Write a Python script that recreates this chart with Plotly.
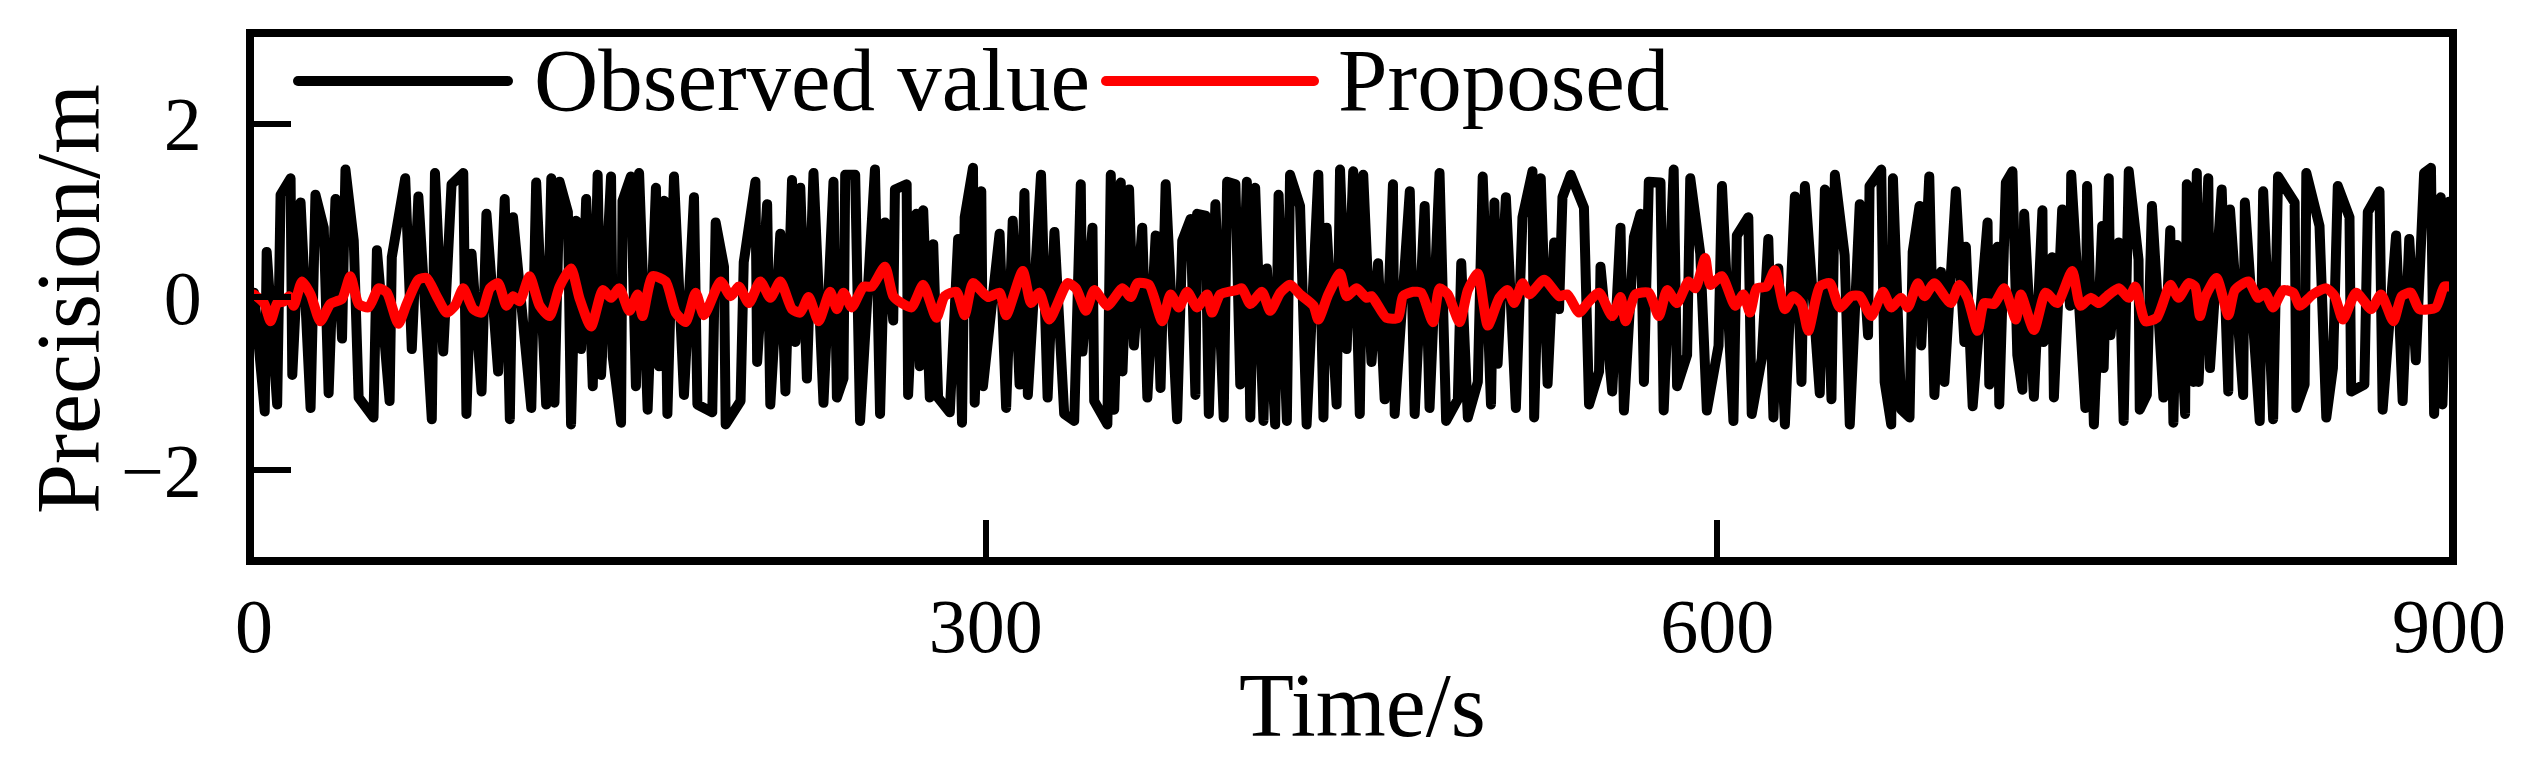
import plotly.graph_objects as go

obs_time = [
    0, 4.4, 5.2, 9.5, 10.9, 15.0, 15.7, 19.1, 23.2, 25.2, 28.6, 30.6, 33.4, 36.1, 37.5, 40.9,
    42.9, 49.0, 50.4, 55.6, 56.5, 62.0, 64.7, 67.4, 72.9, 74.2, 77.6, 81.0, 85.8, 87.1, 89.2,
    93.3, 95.3, 100.1, 102.8, 104.9, 106.2,
    111.0, 113.7, 115.7, 119.8, 121.9, 123.2, 125.3, 128.7, 130.0, 132.1, 134.1, 136.2, 138.9,
    140.9, 142.3, 146.4, 147.1, 150.5, 151.1, 154.5, 156.6, 157.9, 161.4, 164.8, 166.1, 168.2,
    169.5, 172.2, 176.3, 180.4, 181.8, 187.9, 189.3, 192.7, 193.4, 199.5, 200.8, 205.6, 206.3,
    210.4, 211.7, 215.8, 217.9, 220.6, 222.0, 224.0,
    226.7, 229.4, 233.5, 237.6, 239.0, 241.7, 242.4, 246.5, 248.5, 254.6, 256.7, 258.7, 262.1,
    262.8, 267.6, 268.2, 271.6, 273.0, 274.4, 277.1, 278.5, 280.5, 285.3, 288.7, 290.3, 291.4,
    294.8, 295.5, 298.2, 298.9, 305.7, 308.4, 311.1, 313.9, 315.9, 317.3, 322.7, 325.4, 328.2,
    332.2, 336.3, 339.0,
    339.7, 343.8, 344.5, 349.9, 351.3, 352.7, 355.4, 356.1, 358.8, 360.8, 364.2, 366.3, 369.7,
    371.7, 373.8, 378.5, 380.6, 384.0, 386.0, 386.7, 390.1, 391.5, 394.2, 397.6, 399.0, 402.4,
    404.4, 407.1, 408.5, 410.5, 413.9, 415.3, 418.7, 420.1, 423.5, 424.8, 428.9, 431.6, 436.4,
    438.5, 439.8, 443.9, 445.3, 448.0, 450.7, 453.4,
    454.8, 458.2, 460.9, 463.6, 467.0, 467.7, 473.9, 475.9, 480.0, 482.0, 486.1, 488.8, 493.6,
    495.0, 497.7, 501.8, 503.8, 507.2, 508.6, 509.9, 513.3, 517.4, 520.1, 524.2, 524.9, 527.6,
    530.4, 533.1, 535.1, 536.5, 539.9, 545.3, 547.4, 551.5, 552.1, 556.9, 560.3, 561.7, 565.8,
    568.5, 569.9, 571.9, 576.7, 578.0, 582.1, 583.5, 587.6, 588.9, 593.0, 595.7, 600.5, 601.9,
    606.6, 608.0, 612.7, 614.1, 618.2, 620.9, 623.0, 625.0, 627.7, 631.8, 634.5, 635.9, 642.0,
    644.1, 646.8, 648.2, 652.2, 654.3, 658.4, 661.8, 662.4, 667.2, 668.6, 671.3, 672.0, 675.4,
    678.8, 680.1,
    682.9, 683.6, 686.9, 689.0, 691.7, 693.1, 697.8, 701.3, 701.9, 704.7, 710.8, 711.5, 714.9,
    715.6, 718.3, 721.0, 723.0, 725.1, 725.8, 729.8, 733.3, 733.7, 737.3, 738.0, 741.4, 744.6,
    745.1, 750.9, 751.6, 754.4, 757.8, 758.4, 760.5, 761.2, 764.6, 766.6, 768.7, 772.7, 773.2,
    776.1, 778.2, 782.9, 785.7, 787.0, 788.4, 791.8, 792.5, 795.2, 796.6,
    797.3, 801.3, 802.0, 806.8, 809.5, 810.2, 815.6, 816.3, 822.4, 823.8, 827.9, 829.9, 836.7,
    837.4, 840.8, 841.5, 846.9, 849.7, 852.4, 854.4, 859.2, 859.9, 865.3, 866.7, 871.5, 872.8,
    878.3, 881.0, 883.7, 886.4, 889.8, 892.6, 893.9, 896.6, 897.3, 900.0,
]
obs_value = [
    0.05, -1.32, 0.52, -1.24, 1.18, 1.37, -0.90, 1.09, -1.28, 1.18, 0.80, -1.11, 1.13, -0.48, 1.47, 0.65,
    -1.16, -1.39, 0.54, -1.20, 0.46, 1.37, -0.60, 1.16, -1.41, 1.43, -0.63, 1.30, 1.43, -1.35, 0.50,
    -1.09, 0.96, -0.86, 1.13, -1.41, 0.92,
    -0.52, -1.28, 1.32, -1.24, 1.37, -1.22, 1.33, 0.98, -1.47, 0.88, -0.60, 1.13, -1.03,
    1.41, -0.90, 1.39, -0.69, -1.45, 1.11, 1.39, -1.03, 1.43, -1.30, 1.26, -0.80, 1.11,
    -1.35, 1.39, -1.13, 1.15, -1.24, -1.33, 0.86, 0.35, -1.47, -1.20, 0.40, 1.33, -0.75,
    1.07, -1.24, 0.73, -1.09, 1.35, -0.52, 1.26,
    -0.94, 1.43, -1.22, 1.33, -1.16, -0.94, 1.41, 1.41, -1.43, 1.47, -1.35, 0.86, -0.27,
    1.24, 1.30, -1.13, 0.96, -0.80, 1.00, -1.16, 0.61, -1.16, -1.33, 0.67, -1.45, 0.92,
    1.49, -1.22, 1.22, -1.03, 0.73, -1.28, 0.88, -1.01, 1.20, -1.13, 1.41, -1.16, 0.75,
    -1.35, -1.43, 1.30,
    -0.63, 0.80, -1.20, -1.47, 1.41, -1.30, 1.32, -0.86, 1.24, -0.56, 0.80, -1.16, 0.71,
    -1.05, 1.30, -1.41, 0.65, 0.90, -1.13, 0.96, 0.94, -1.35, 1.07, -1.39, 1.33, 1.30,
    -1.01, 1.33, -1.39, 1.26, -1.43, 0.33, -1.47, 1.18, -1.43, 1.41, 1.05, -1.47, 1.41,
    -1.39, 0.80, -1.24, 1.47, -0.60, 1.45, -1.35,
    1.41, -0.75, 0.39, -1.18, 1.30, -1.35, 1.22, -1.35, 1.05, -1.28, 1.43, -1.43, -1.18,
    0.39, -1.39, -0.98, 1.39, -1.24, 1.09, -0.77, 1.15, -1.28, 0.92, 1.45, -1.39, 1.37,
    -1.00, 0.63, -0.14, 1.15, 1.41, 1.03, -1.24, -0.86, 0.35, -1.09, 0.80, -1.31, 0.69,
    0.96, -0.98, 1.33, 1.32, -1.31, 1.47, -1.03, -0.67, 1.37, 0.50, -1.31, -0.56, 1.28,
    -1.43, 0.71, 0.92, -1.35, -0.71, 0.67, -1.39, 0.33, -1.47, 1.16, -0.98, 1.28, -1.11,
    1.24, -1.18, 1.41, 0.48, -1.47, 1.07, -0.44, 1.28, 1.47, -0.98, -1.47, 1.37, -1.30,
    -1.39, 0.52,
    1.05, -0.56, 1.39, -1.13, 0.29, -0.98, 1.22, -0.52, 0.58, -1.26, 0.86, -1.01, 0.58,
    -1.24, 1.32, 1.45, -0.67, -1.07, 0.96, -1.15, 1.00, -0.52, 0.46, -1.16, 1.01, -0.10,
    1.41, -1.28, 1.28, -1.47, 0.82, -0.82, 1.37, -0.44, 0.63, -1.43, 1.45, 0.43, -1.30,
    -1.13, 1.05, -1.16, 0.77, -1.45, 0.60, -1.35, 1.30, -0.98, 1.43,
    -0.98, 1.37, -0.82, 1.24, -1.09, 1.01, -1.13, 1.09, -1.43, 1.22, -1.41, 1.39, 1.09,
    -1.28, -1.01, 1.43, 0.82, -1.39, -0.82, 1.28, 0.92, -1.09, -1.01, 0.98, 1.22, -1.30,
    0.71, -1.20, 0.67, -0.73, 1.43, 1.49, -1.35, 1.15, -1.24, 1.10,
]

# Proposed (red)
prop_time = [
    0, 4.1, 6.8, 9.5, 12.3, 14.3, 16.3, 19.7, 23.2, 27.2, 31.3, 36.1, 39.5, 42.9, 47.0, 51.1,
    54.5, 59.2, 62.6, 67.4, 70.8, 74.9, 79.0, 82.4, 85.8, 89.9, 93.3, 96.7, 100.1, 103.5, 106.2, 108.9,
    113.0, 117.1, 121.2, 125.3, 130.0, 133.4, 138.2, 143.0, 146.4, 149.8, 153.9, 157.3, 159.3,
    163.4, 168.8, 172.9, 177.0, 181.1, 184.5, 191.3, 195.4, 198.8, 202.9, 207.6, 211.7, 215.8,
    220.6, 224.0, 227.4,
    231.5, 236.2, 239.0, 241.7, 245.1, 249.9, 253.3, 258.7, 262.1, 265.5, 269.6, 274.4, 279.8,
    283.2, 288.0, 291.4, 294.8, 300.9, 305.7, 308.4, 315.2, 318.6, 322.0, 326.1, 333.6, 337.0, 341.1,
    344.5, 349.9, 356.1, 359.5, 362.2, 367.0, 372.4, 375.8, 379.2, 382.6, 386.7, 390.8, 392.8,
    396.2, 403.0, 405.1, 408.5, 413.3, 416.7, 420.8, 424.8, 428.9, 434.4, 436.4, 440.5, 445.3,
    448.0, 452.1, 456.2,
    458.2, 464.3, 469.1, 471.1, 475.2, 478.6, 483.4, 486.1, 489.5, 494.3, 497.7, 501.8, 505.9,
    510.6, 514.0, 516.7, 520.1, 522.9, 529.0, 535.1, 538.5, 543.3, 547.4, 551.5, 556.9, 560.3,
    562.4, 566.4,
    571.9, 576.0, 579.4, 583.5, 588.2, 591.0, 595.0, 597.1, 601.8, 607.3, 610.7, 613.4, 616.1,
    620.2, 623.6, 627.7, 631.1, 634.5, 637.3, 642.0, 646.1, 650.2, 655.0, 658.4, 663.1, 667.9,
    671.3, 675.4, 678.1, 682.2, 684.9,
    689.0, 693.1, 695.8, 699.2, 702.6, 706.7, 709.4, 713.5, 717.6, 722.4, 724.4, 729.8, 734.6,
    739.4, 745.5, 748.9, 753.0, 756.4, 759.8, 764.6, 768.7, 771.4, 775.5, 780.2, 785.7, 789.1,
    793.2, 795.9, 797.9, 800.0,
    804.7, 809.5, 812.2, 817.7, 821.8, 824.5, 827.9, 832.0, 836.1, 838.8, 844.2, 849.7, 853.1,
    856.5, 861.9, 868.1, 872.1, 877.2, 880.6, 884.4, 887.8, 894.6, 898.0, 900.0,
]
prop_value = [
    0.03, -0.07, -0.28, -0.07, -0.05, 0.01, -0.10, 0.18, 0.03, -0.28, -0.08, -0.02, 0.24, -0.08, -0.12, 0.10,
    0.05, -0.31, -0.08, 0.20, 0.22, 0.01, -0.18, -0.10, 0.10, -0.14, -0.18, 0.10, 0.16, -0.10, 0.01, -0.05,
    0.24, -0.10, -0.22, 0.12, 0.33, -0.01, -0.34, 0.08, -0.01, 0.10, -0.16, 0.03, -0.22,
    0.24, 0.18, -0.18, -0.29, 0.05, -0.21, 0.18, 0.01, 0.12, -0.07, 0.18, -0.01, 0.18,
    -0.14, -0.18, 0.00,
    -0.28, 0.06, -0.14, 0.05, -0.12, 0.12, 0.12, 0.35, 0.01, -0.07, -0.12, 0.14, -0.24,
    0.01, 0.06, -0.21, 0.16, 0.00, 0.05, -0.21, 0.30, -0.07, 0.05, -0.26, 0.16, 0.10, -0.16,
    0.08, -0.10, 0.10, 0.00, 0.16, 0.14, -0.28, 0.03, -0.12, 0.06, -0.12, 0.03, -0.18,
    0.03, 0.08, 0.10, -0.08, 0.06, -0.16, 0.05, 0.14, 0.03, -0.10, -0.26, 0.03, 0.27,
    0.01, 0.10, -0.01,
    0.01, -0.24, -0.24, 0.01, 0.06, 0.05, -0.29, 0.10, 0.03, -0.29, 0.08, 0.27, -0.33,
    -0.01, 0.08, -0.07, 0.16, 0.03, 0.20, 0.01, 0.03, -0.18, -0.05, 0.05, -0.22, 0.00,
    -0.28, 0.03,
    0.05, -0.22, 0.08, -0.07, 0.18, 0.10, 0.45, 0.14, 0.24, -0.10, 0.03, -0.18, 0.10,
    0.12, 0.31, -0.14, 0.01, -0.08, -0.39, 0.12, 0.16, -0.12, 0.01, 0.01, -0.22, 0.06,
    -0.12, -0.01, -0.12, 0.16, 0.01,
    0.16, 0.01, -0.07, 0.14, -0.01, -0.39, -0.07, -0.08, 0.10, -0.26, 0.03, -0.38, 0.05,
    -0.07, 0.30, -0.10, -0.01, -0.07, 0.01, 0.10, -0.01, 0.12, -0.28, -0.24, 0.14, -0.01,
    0.16, 0.12, -0.22, 0.00,
    0.22, -0.21, 0.08, 0.18, -0.01, 0.05, -0.12, 0.08, 0.05, -0.10, 0.03, 0.10, 0.01,
    -0.26, 0.05, -0.14, 0.03, -0.28, 0.01, 0.05, -0.14, -0.12, 0.12, 0.12,
]

x_ticks = [0, 300, 600, 900]
y_ticks = [-2, 0, 2]
series_names = ["Observed value", "Proposed"]
series_colors = ["#000000", "#ff0000"]

FONT = "Liberation Serif, Times New Roman, serif"
W, H = 2527, 775
L, R, T, B = 254, 78, 37, 218
PW, PH = W - L - R, H - T - B


def px(x):
    """pixel column -> paper x"""
    return (x - L) / PW


def py(y):
    """pixel row -> paper y"""
    return (H - B - y) / PH


fig = go.Figure()
fig.add_trace(
    go.Scatter(
        x=obs_time, y=obs_value, mode="lines", name=series_names[0],
        line=dict(color=series_colors[0], width=10), showlegend=False,
    )
)
fig.add_trace(
    go.Scatter(
        x=prop_time, y=prop_value, mode="lines", name=series_names[1],
        line=dict(color=series_colors[1], width=10, shape="spline", smoothing=0.6),
        showlegend=False,
    )
)

# legend drawn by hand so the line samples are as long as in the original
legend_rows = [(298, 508, 532), (1106, 1314, 1336)]
for (x0, x1, xt), name, color in zip(legend_rows, series_names, series_colors):
    fig.add_shape(
        type="line", xref="paper", yref="paper",
        x0=px(x0), x1=px(x1), y0=py(81), y1=py(81),
        line=dict(color=color, width=10),
    )
    fig.add_annotation(
        x=px(xt), y=py(80), xref="paper", yref="paper", text=name,
        showarrow=False, xanchor="left", yanchor="middle",
        font=dict(family=FONT, size=89, color="black"),
    )

fig.add_annotation(
    x=px(1362), y=py(706), xref="paper", yref="paper", text="Time/s",
    showarrow=False, xanchor="center", yanchor="middle",
    font=dict(family=FONT, size=90, color="black"),
)
fig.add_annotation(
    x=px(68), y=py(299), xref="paper", yref="paper", text="Precision/m",
    showarrow=False, xanchor="center", yanchor="middle", textangle=-90,
    font=dict(family=FONT, size=90, color="black"),
)

axis_style = dict(
    showline=True, linewidth=8, linecolor="black", mirror=True,
    ticks="inside", ticklen=37, tickwidth=6, tickcolor="black",
    showgrid=False, zeroline=False,
    tickfont=dict(family=FONT, size=76, color="black"),
)
fig.update_xaxes(range=[0, 900], tickvals=x_ticks, ticklabelstandoff=-4, **axis_style)
fig.update_yaxes(range=[-3, 3], tickvals=y_ticks, ticklabelstandoff=29, **axis_style)

fig.update_layout(
    width=W, height=H,
    margin=dict(l=L, r=R, t=T, b=B, autoexpand=False),
    plot_bgcolor="white", paper_bgcolor="white",
    font=dict(family=FONT, color="black"),
)

# no page margin, and rounded line ends like the original
post = (
    "document.body.style.margin='0';"
    "document.querySelectorAll('.scatterlayer .js-line, .shapelayer path').forEach(function(p){"
    "p.style.strokeLinejoin='round';p.style.strokeLinecap='round';});"
)
fig.write_html("out.html", post_script=post, config={"displayModeBar": False})
